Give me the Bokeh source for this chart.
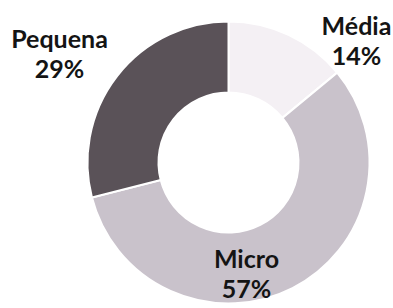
import math
from bokeh.plotting import figure
from bokeh.models import Range1d, ColumnDataSource
from bokeh.core.properties import value
from bokeh.embed import file_html
from bokeh.resources import INLINE

# data
categories = ["Média", "Micro", "Pequena"]
percents = [14, 57, 29]
colors = ["#f4f0f4", "#c9c2cb", "#5a5258"]

# layout (picture pixel coordinates)
W, H = 393, 308
cx, cy = 228, 162
r_out, r_in = 141, 70
label_pos = [(356, 39), (246, 272), (59, 52)]

def py(y):  # picture y -> data y
    return H - y

total = sum(percents)
starts, ends = [], []
cum = 0.0
for v in percents:
    starts.append(math.pi / 2 - 2 * math.pi * cum / total)
    cum += v
    ends.append(math.pi / 2 - 2 * math.pi * cum / total)

src = ColumnDataSource(dict(
    x=[cx] * len(categories), y=[py(cy)] * len(categories),
    start=starts, end=ends, color=colors,
))

p = figure(width=W, height=H, output_backend="svg", toolbar_location=None,
           x_range=Range1d(0, W), y_range=Range1d(0, H),
           min_border=0)
p.axis.visible = False
p.grid.visible = False
p.outline_line_color = None
p.background_fill_color = "white"

p.annular_wedge(x="x", y="y", inner_radius=r_in, outer_radius=r_out,
                start_angle="start", end_angle="end", direction="clock",
                fill_color="color", line_color="white", line_width=2,
                source=src)

labels = [f"{c}\n{v}%" for c, v in zip(categories, percents)]
p.text(x=[lp[0] for lp in label_pos], y=[py(lp[1]) for lp in label_pos],
       text=labels, text_font=value("Lato"), text_font_style="bold",
       text_font_size="25px", text_color="#141414", text_align="center",
       text_baseline="middle", text_line_height=1.0)

open("out.html", "w").write(file_html(p, INLINE))
